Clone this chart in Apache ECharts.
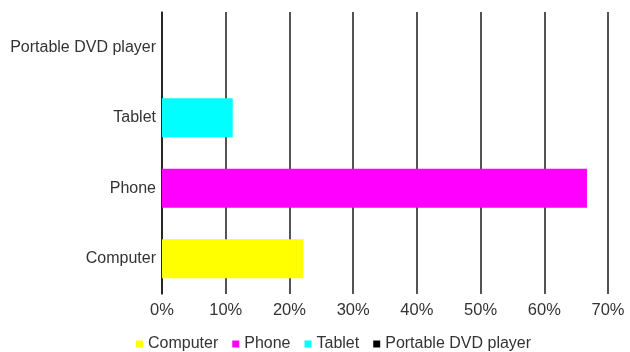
<!DOCTYPE html>
<html>
<head>
<meta charset="utf-8">
<script src="https://cdn.jsdelivr.net/npm/echarts@6/dist/echarts.min.js"></script>
<style>html,body{margin:0;padding:0;background:#fff}#c{width:630px;height:352px}</style>
</head>
<body>
<div id="c"></div>
<script>
var categories = ['Computer', 'Phone', 'Tablet', 'Portable DVD player'];
var seriesNames = ['Computer', 'Phone', 'Tablet', 'Portable DVD player'];
var seriesValues = [22.2, 66.7, 11.1, 0];
var seriesColors = ['#ffff00', '#ff00ff', '#00ffff', '#000000'];
var tickLabels = ['0%', '10%', '20%', '30%', '40%', '50%', '60%', '70%'];

var font = '"Liberation Sans", Arial, Helvetica, sans-serif';
var series = seriesNames.map(function (name, i) {
  var data = categories.map(function (c, j) { return j === i ? seriesValues[i] : '-'; });
  return {
    name: name, type: 'bar', stack: 'all', data: data, barWidth: 39,
    itemStyle: { color: seriesColors[i] }
  };
});
var chart = echarts.init(document.getElementById('c'), null, { renderer: 'canvas' });
chart.setOption({
  animation: false,
  textStyle: { fontFamily: font },
  grid: { left: 162, right: 22, top: 12, bottom: 58, containLabel: false },
  xAxis: {
    type: 'value', min: 0, max: 70, interval: 10,
    axisLine: { show: false }, axisTick: { show: false },
    splitLine: { show: true, lineStyle: { color: '#1a1a1a', width: 1.5 } },
    axisLabel: {
      margin: 8, fontSize: 16.5, color: '#333', fontFamily: font,
      formatter: function (v) { return tickLabels[Math.round(v / 10)]; }
    }
  },
  yAxis: {
    type: 'category', data: categories,
    axisLine: { show: true, lineStyle: { color: '#1a1a1a', width: 1.5 } },
    axisTick: { show: false },
    axisLabel: { margin: 6, fontSize: 16, color: '#333', fontFamily: font, padding: [5, 0, 0, 0] }
  },
  legend: {
    data: seriesNames, top: 336, left: 136,
    icon: 'rect', itemWidth: 7, itemHeight: 7, itemGap: 14,
    padding: 0,
    textStyle: { fontSize: 16, color: '#333', fontFamily: font }
  },
  series: series
});
</script>
</body>
</html>
